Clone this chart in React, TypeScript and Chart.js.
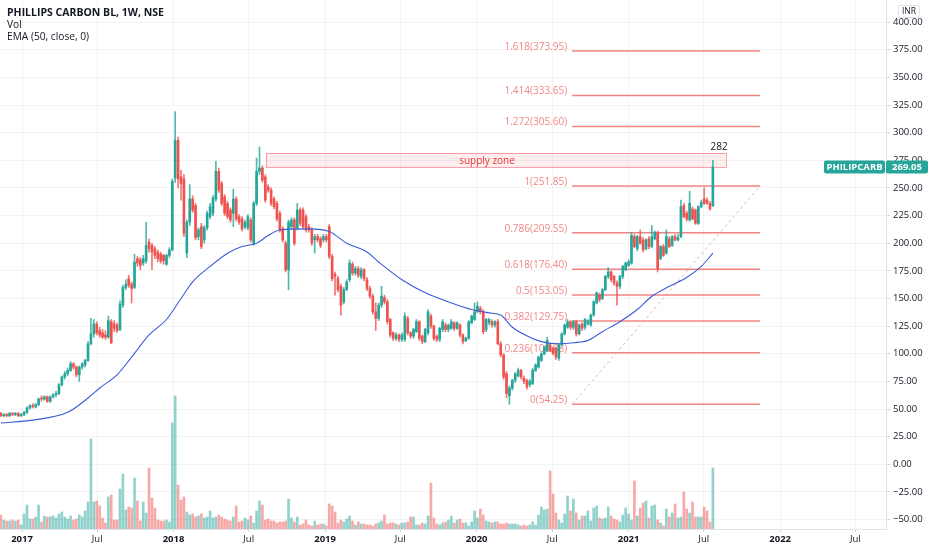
import React, { useEffect, useRef } from "react";
import { Chart, registerables } from "chart.js";

Chart.register(...registerables);

const FONT = '"Open Sans", "Noto Sans", sans-serif';
const GREEN = "#26a69a";
const RED = "#ef5350";
const TEXT = "#131722";

// weekly bars, day offsets from 2017-01-01
const firstBarDay = -51;

const opens = [
  46, 44, 45, 44, 46, 45, 46, 44, 45, 47,
  51, 53, 52, 54, 60, 59, 61, 57, 61, 63,
  64, 72, 79, 82, 85, 91, 88, 81, 88, 90,
  94, 109, 118, 127, 121, 119, 117, 115, 129, 127,
  126, 122, 144, 160, 168, 163, 160, 186, 185, 182,
  184, 201, 198, 195, 192, 190, 189, 181, 189, 194,
  259, 293, 260, 258, 191, 219, 240, 234, 206, 215,
  203, 214, 224, 227, 240, 265, 254, 242, 236, 230,
  227, 240, 224, 222, 215, 214, 221, 200, 236, 265,
  268, 260, 251, 248, 240, 236, 227, 213, 200, 176,
  215, 221, 214, 230, 230, 224, 215, 212, 203, 206,
  204, 203, 206, 215, 188, 172, 168, 161, 147, 158,
  167, 181, 173, 177, 170, 176, 167, 159, 152, 138,
  132, 144, 151, 147, 131, 119, 114, 117, 113, 113,
  132, 119, 116, 120, 129, 116, 111, 119, 134, 125,
  116, 113, 122, 126, 122, 123, 128, 123, 126, 117,
  112, 114, 128, 131, 138, 141, 138, 122, 128, 129,
  126, 129, 109, 99, 82, 62, 69, 76, 80, 85,
  78, 76, 72, 73, 85, 88, 94, 100, 103, 108,
  105, 105, 96, 108, 118, 124, 129, 124, 129, 118,
  127, 124, 127, 126, 135, 146, 153, 150, 158, 170,
  174, 170, 164, 161, 170, 176, 180, 182, 206, 195,
  206, 203, 195, 204, 197, 204, 209, 186, 197, 191,
  204, 198, 206, 203, 206, 234, 227, 221, 231, 230,
  218, 233, 240, 239, 236, 234,
];

const highs = [
  47, 46, 46, 47, 47, 47, 47, 46, 48, 52,
  54, 55, 55, 60, 62, 62, 62, 62, 64, 66,
  73, 80, 84, 87, 93, 92, 89, 89, 92, 95,
  111, 132, 131, 129, 124, 122, 121, 134, 131, 130,
  128, 148, 162, 167, 171, 165, 190, 188, 187, 189,
  219, 204, 200, 197, 194, 192, 190, 190, 196, 258,
  319, 296, 266, 262, 221, 253, 243, 236, 214, 218,
  216, 229, 236, 243, 274, 268, 256, 244, 238, 232,
  249, 242, 226, 224, 221, 226, 223, 238, 277, 287,
  270, 262, 253, 250, 242, 238, 229, 215, 202, 221,
  223, 223, 236, 232, 232, 226, 217, 214, 208, 208,
  206, 208, 208, 217, 190, 174, 170, 163, 160, 167,
  185, 183, 179, 179, 178, 177, 169, 161, 154, 146,
  146, 161, 153, 149, 132, 120, 119, 118, 119, 137,
  134, 120, 123, 131, 130, 117, 123, 140, 136, 126,
  117, 124, 131, 128, 127, 131, 129, 129, 127, 118,
  115, 130, 135, 146, 147, 143, 140, 132, 132, 131,
  130, 131, 111, 100, 84, 71, 77, 83, 87, 86,
  80, 77, 77, 87, 91, 98, 101, 107, 115, 109,
  106, 106, 109, 119, 127, 131, 130, 130, 130, 127,
  128, 132, 131, 136, 148, 156, 155, 159, 171, 178,
  175, 171, 166, 171, 180, 183, 185, 210, 208, 207,
  212, 205, 204, 206, 216, 211, 211, 198, 199, 212,
  206, 207, 208, 208, 239, 236, 229, 247, 233, 231,
  234, 239, 250, 241, 238, 275,
];

const lows = [
  43, 43, 43, 43, 44, 44, 43, 43, 44, 46,
  50, 51, 51, 53, 57, 58, 56, 56, 60, 61,
  63, 71, 77, 80, 84, 86, 79, 75, 86, 88,
  93, 108, 115, 117, 115, 114, 113, 114, 109, 120,
  119, 121, 142, 158, 160, 146, 159, 179, 176, 180,
  182, 192, 176, 186, 183, 182, 181, 180, 187, 193,
  255, 250, 239, 206, 187, 216, 228, 203, 203, 195,
  200, 212, 222, 225, 238, 246, 234, 225, 222, 219,
  215, 220, 217, 211, 213, 212, 201, 198, 234, 262,
  255, 237, 246, 234, 231, 220, 210, 201, 174, 158,
  213, 198, 212, 216, 213, 210, 210, 198, 191, 201,
  196, 201, 201, 186, 166, 153, 156, 135, 145, 157,
  165, 171, 171, 169, 168, 166, 157, 150, 136, 121,
  130, 142, 145, 127, 115, 112, 112, 111, 111, 111,
  117, 114, 114, 119, 112, 109, 110, 117, 123, 112,
  111, 111, 120, 120, 120, 122, 121, 122, 115, 109,
  111, 113, 127, 130, 137, 136, 118, 120, 126, 124,
  124, 108, 97, 77, 60, 54.25, 67, 74, 79, 77,
  73, 68, 70, 72, 84, 87, 93, 99, 102, 102,
  99, 95, 94, 107, 117, 123, 122, 122, 116, 117,
  121, 122, 126, 125, 134, 145, 147, 149, 157, 168,
  165, 162, 144, 159, 168, 175, 179, 181, 196, 193,
  199, 192, 194, 195, 196, 203, 174, 185, 188, 190,
  196, 197, 202, 202, 205, 223, 220, 220, 221, 217,
  217, 232, 235, 235, 230, 233,
];

const closes = [
  44, 45, 44, 46, 45, 46, 44, 45, 47, 51,
  53, 52, 54, 59, 59, 61, 57, 61, 63, 64,
  72, 79, 82, 85, 91, 88, 81, 88, 91, 94,
  109, 118, 127, 119, 117, 115, 115, 130, 110, 123,
  121, 145, 160, 163, 162, 159, 183, 182, 180, 186,
  198, 195, 192, 189, 186, 184, 184, 189, 194, 256,
  293, 258, 254, 209, 219, 240, 230, 205, 212, 197,
  214, 227, 233, 241, 265, 248, 236, 227, 224, 221,
  240, 222, 219, 213, 219, 224, 203, 236, 265, 268,
  257, 239, 248, 236, 233, 222, 212, 203, 176, 219,
  221, 200, 230, 218, 215, 212, 212, 200, 206, 203,
  198, 206, 203, 188, 168, 170, 158, 144, 158, 165,
  182, 173, 177, 171, 176, 168, 159, 152, 138, 132,
  144, 152, 147, 129, 117, 114, 117, 113, 117, 134,
  119, 116, 122, 129, 114, 111, 122, 138, 125, 114,
  113, 123, 129, 122, 126, 129, 123, 128, 117, 111,
  114, 129, 134, 138, 143, 138, 120, 131, 131, 126,
  129, 109, 99, 79, 64, 69, 76, 82, 85, 79,
  75, 70, 75, 85, 90, 97, 100, 106, 112, 103,
  100, 97, 108, 118, 126, 129, 124, 129, 118, 126,
  123, 131, 129, 135, 147, 155, 149, 158, 170, 174,
  167, 164, 161, 170, 179, 182, 183, 207, 197, 206,
  200, 194, 203, 197, 206, 210, 177, 197, 189, 206,
  197, 206, 203, 205, 233, 224, 222, 236, 222, 218,
  233, 237, 236, 236, 231, 269.05,
];

const volumes = [
  14, 9, 8, 8, 9, 8, 9, 4, 15, 24,
  10, 10, 12, 24, 7, 13, 12, 12, 13, 11,
  15, 17, 12, 10, 13, 9, 10, 14, 12, 18,
  27, 90, 27, 28, 23, 11, 6, 32, 34, 9,
  9, 40, 55, 19, 22, 21, 51, 28, 8, 27,
  16, 61, 31, 21, 9, 8, 8, 9, 7, 106,
  133, 44, 29, 32, 17, 14, 15, 12, 13, 15,
  11, 12, 18, 11, 12, 14, 12, 10, 9, 8,
  12, 23, 7, 8, 11, 9, 13, 6, 18, 28,
  24, 9, 10, 8, 8, 6, 7, 7, 8, 30,
  11, 7, 12, 4, 5, 9, 4, 3, 8, 4,
  5, 5, 3, 25, 23, 17, 6, 9, 7, 10,
  13, 8, 4, 7, 5, 5, 4, 4, 3, 5,
  6, 8, 14, 5, 6, 6, 5, 4, 6, 6,
  7, 12, 12, 4, 4, 6, 5, 13, 46, 11,
  5, 4, 6, 7, 9, 13, 6, 9, 10, 6,
  6, 3, 7, 18, 11, 20, 14, 8, 7, 6,
  7, 7, 5, 5, 6, 5, 5, 5, 4, 3,
  4, 3, 4, 7, 4, 14, 22, 19, 20, 58,
  35, 16, 9, 6, 15, 33, 18, 30, 16, 9,
  13, 13, 18, 8, 21, 23, 11, 10, 11, 22,
  13, 10, 9, 7, 14, 21, 15, 9, 48, 13,
  21, 26, 28, 11, 23, 24, 9, 6, 3, 20,
  12, 16, 25, 11, 12, 37, 20, 16, 27, 12,
  12, 12, 22, 18, 7, 61,
];

// EMA(50) at these bar indices
const emaWeeks = [0, 11, 23, 30, 34, 40, 45, 51, 57, 62, 66, 72, 78, 83, 88, 92, 96, 106, 113, 119, 126, 130, 138, 147, 155, 162, 168, 172, 176, 182, 186, 192, 197, 202, 207, 213, 219, 224, 230, 236, 241, 245];
const emaValues = [37.4, 40, 47, 60, 69, 81, 97, 117, 131, 150, 165, 179, 191, 197, 200, 207, 212, 213, 210.6, 200, 192, 183, 167, 154, 146, 140, 137, 135, 124, 115, 111, 109, 110, 112, 120, 129, 140, 152, 161, 169, 179, 191];

const timeTickDays = [0, 181, 365, 546, 730, 911, 1095, 1277, 1461, 1642, 1826, 2007];
const timeTickLabels = ["2017", "Jul", "2018", "Jul", "2019", "Jul", "2020", "Jul", "2021", "Jul", "2022", "Jul"];
const priceTicks = [-50, -25, 0, 25, 50, 75, 100, 125, 150, 175, 200, 225, 250, 275, 300, 325, 350, 375, 400];

const fibRatios = ["0", "0.236", "0.382", "0.5", "0.618", "0.786", "1", "1.272", "1.414", "1.618"];
const fibPrices = [54.25, 100.88, 129.75, 153.05, 176.4, 209.55, 251.85, 305.6, 333.65, 373.95];
const fibStartDay = 1325;
const fibEndDay = 1778;

const zoneStartDay = 588;
const zoneEndDay = 1695;
const zoneLow = 268.7;
const zoneHigh = 281.4;
const zoneLabel = "supply zone";
const zoneLabelDay = 1120;

const highLabel = "282";
const highLabelDay = 1679;
const highLabelPrice = 287;

const symbol = "PHILIPCARB";
const lastPrice = 269.05;

const titleLines = ["PHILLIPS CARBON BL, 1W, NSE", "Vol", "EMA (50, close, 0)"];

const fmtPrice = (v: number) => (v < 0 ? "\u2212" + Math.abs(v).toFixed(2) : v.toFixed(2));

export default function App() {
  const ref = useRef<HTMLCanvasElement>(null);

  useEffect(() => {
    const canvas = ref.current!;
    const dayOf = (i: number) => firstBarDay + 7 * i;
    const up = closes.map((c, i) => c >= opens[i]);
    const bodyColors = up.map((u) => (u ? GREEN : RED));
    const wickColors = up.map((u) => (u ? "rgba(38,166,154,0.8)" : "rgba(239,83,80,0.8)"));
    const volColors = up.map((u) => (u ? "rgba(38,166,154,0.5)" : "rgba(239,83,80,0.5)"));

    const overlay = {
      id: "overlay",
      beforeDatasetsDraw(chart: any) {
        const { ctx } = chart;
        const x = chart.scales.x;
        const y = chart.scales.y;
        ctx.save();
        const zx1 = x.getPixelForValue(zoneStartDay);
        const zx2 = x.getPixelForValue(zoneEndDay);
        const zy1 = y.getPixelForValue(zoneHigh);
        const zy2 = y.getPixelForValue(zoneLow);
        ctx.fillStyle = "rgba(242,54,69,0.09)";
        ctx.fillRect(zx1, zy1, zx2 - zx1, zy2 - zy1);
        ctx.strokeStyle = "rgba(242,54,69,0.45)";
        ctx.lineWidth = 1;
        ctx.strokeRect(Math.round(zx1) + 0.5, Math.round(zy1) + 0.5, Math.round(zx2 - zx1), Math.round(zy2 - zy1));

        const fx1 = x.getPixelForValue(fibStartDay);
        const fx2 = x.getPixelForValue(fibEndDay);
        ctx.strokeStyle = "#f08383";
        ctx.lineWidth = 1.5;
        ctx.font = `10px ${FONT}`;
        ctx.textAlign = "right";
        ctx.textBaseline = "middle";
        fibPrices.forEach((p, k) => {
          const py = y.getPixelForValue(p);
          ctx.beginPath();
          ctx.moveTo(fx1, py);
          ctx.lineTo(fx2, py);
          ctx.stroke();
          ctx.fillStyle = "#f28686";
          ctx.fillText(`${fibRatios[k]}(${p.toFixed(2)})`, fx1 - 5, py - 4);
        });
        ctx.setLineDash([3, 3]);
        ctx.strokeStyle = "rgba(230,160,160,0.8)";
        ctx.lineWidth = 1;
        ctx.beginPath();
        ctx.moveTo(fx1, y.getPixelForValue(fibPrices[0]));
        ctx.lineTo(fx2, y.getPixelForValue(fibPrices[6]));
        ctx.stroke();
        ctx.setLineDash([]);
        ctx.restore();
      },
      afterDatasetsDraw(chart: any) {
        const { ctx } = chart;
        const x = chart.scales.x;
        const y = chart.scales.y;
        ctx.save();
        ctx.font = `10px ${FONT}`;
        ctx.textAlign = "center";
        ctx.textBaseline = "middle";
        ctx.fillStyle = "#e53935";
        ctx.fillText(zoneLabel, x.getPixelForValue(zoneLabelDay), (y.getPixelForValue(zoneHigh) + y.getPixelForValue(zoneLow)) / 2 + 1);
        ctx.fillStyle = TEXT;
        ctx.font = `10px ${FONT}`;
        ctx.fillText(highLabel, x.getPixelForValue(highLabelDay), y.getPixelForValue(highLabelPrice));
        ctx.restore();
      },
      afterDraw(chart: any) {
        const { ctx, chartArea } = chart;
        const y = chart.scales.y;
        ctx.save();
        ctx.textBaseline = "middle";
        ctx.textAlign = "left";
        ctx.fillStyle = TEXT;
        ctx.font = `bold 10.5px ${FONT}`;
        ctx.fillText(titleLines[0], 7, 13);
        ctx.font = `10.2px ${FONT}`;
        ctx.fillText(titleLines[1], 7, 25);
        ctx.fillText(titleLines[2], 7, 37.5);

        const rx = chartArea.right;
        ctx.fillStyle = "#fff";
        ctx.strokeStyle = "#e0e3eb";
        ctx.lineWidth = 1;
        ctx.beginPath();
        ctx.roundRect(rx + 12.5, 5.5, 21, 12, 2);
        ctx.fill();
        ctx.stroke();
        ctx.fillStyle = TEXT;
        ctx.font = `8.5px ${FONT}`;
        ctx.textAlign = "center";
        ctx.fillText("INR", rx + 23, 12);

        const py = y.getPixelForValue(lastPrice);
        ctx.fillStyle = GREEN;
        ctx.beginPath();
        ctx.roundRect(rx - 62, py - 6.5, 61, 13, 2);
        ctx.fill();
        ctx.beginPath();
        ctx.roundRect(rx, py - 6.5, 42, 13, 2);
        ctx.fill();
        ctx.fillStyle = "#fff";
        ctx.font = `bold 9.5px ${FONT}`;
        ctx.fillText(symbol, rx - 31.5, py + 0.5);
        ctx.fillText(lastPrice.toFixed(2), rx + 21, py + 0.5);
        ctx.restore();
      },
    };

    const chart = new Chart(canvas, {
      type: "bar",
      data: {
        datasets: [
          {
            type: "line",
            label: "EMA",
            data: emaWeeks.map((w, k) => ({ x: dayOf(w), y: emaValues[k] })),
            borderColor: "#3d5bd8",
            borderWidth: 1.1,
            pointRadius: 0,
            cubicInterpolationMode: "monotone",
            yAxisID: "y",
            order: 1,
          } as any,
          {
            type: "bar",
            label: "body",
            data: closes.map((c, i) => ({ x: dayOf(i), y: [opens[i], c] })),
            backgroundColor: bodyColors,
            barThickness: 2,
            minBarLength: 1,
            grouped: false,
            yAxisID: "y",
            order: 2,
          } as any,
          {
            type: "bar",
            label: "wick",
            data: closes.map((c, i) => ({ x: dayOf(i), y: [lows[i], highs[i]] })),
            backgroundColor: wickColors,
            barThickness: 1,
            grouped: false,
            yAxisID: "y",
            order: 3,
          } as any,
          {
            type: "bar",
            label: "Vol",
            data: volumes.map((v, i) => ({ x: dayOf(i), y: v })),
            backgroundColor: volColors,
            barThickness: 2,
            grouped: false,
            yAxisID: "yv",
            order: 5,
          } as any,
        ],
      },
      options: {
        animation: false,
        responsive: true,
        maintainAspectRatio: false,
        events: [],
        layout: { padding: 0 },
        plugins: { legend: { display: false }, tooltip: { enabled: false } },
        scales: {
          x: {
            type: "linear",
            min: -53,
            max: 2081,
            offset: false,
            grid: { color: "rgba(42,46,57,0.05)", offset: false, tickLength: 3, tickColor: "#d1d4dc" },
            border: { color: "#e0e3eb" },
            ticks: {
              autoSkip: false,
              maxRotation: 0,
              minRotation: 0,
              padding: 2,
              color: TEXT,
              font: (c: any) => ({
                family: FONT,
                size: 9.5,
                weight: /^\d{4}$/.test(timeTickLabels[c.index] || "") ? "bold" : "normal",
              }),
              callback: (_v: any, idx: number) => timeTickLabels[idx],
            },
            afterBuildTicks: (s: any) => {
              s.ticks = timeTickDays.map((v) => ({ value: v }));
            },
            afterFit: (s: any) => {
              s.height = 21;
              s.paddingLeft = 0;
              s.paddingRight = 0;
            },
          } as any,
          y: {
            type: "linear",
            position: "right",
            min: -58.5,
            max: 420,
            grid: { color: "rgba(42,46,57,0.05)", tickLength: 4, tickColor: "#d1d4dc" },
            border: { color: "#e0e3eb" },
            ticks: {
              padding: 3,
              color: TEXT,
              font: { family: FONT, size: 9.5 },
              callback: (v: any) => fmtPrice(Number(v)),
            },
            afterBuildTicks: (s: any) => {
              s.ticks = priceTicks.map((v) => ({ value: v }));
            },
            afterFit: (s: any) => {
              s.width = 46;
              s.paddingTop = 0;
              s.paddingBottom = 0;
            },
          } as any,
          yv: {
            type: "linear",
            display: false,
            min: 0,
            max: 529,
          } as any,
        },
      },
      plugins: [overlay],
    });
    return () => chart.destroy();
  }, []);

  return (
    <div style={{ position: "fixed", left: 0, top: 0, width: 932, height: 550, background: "#fff" }}>
      <canvas ref={ref} />
    </div>
  );
}
